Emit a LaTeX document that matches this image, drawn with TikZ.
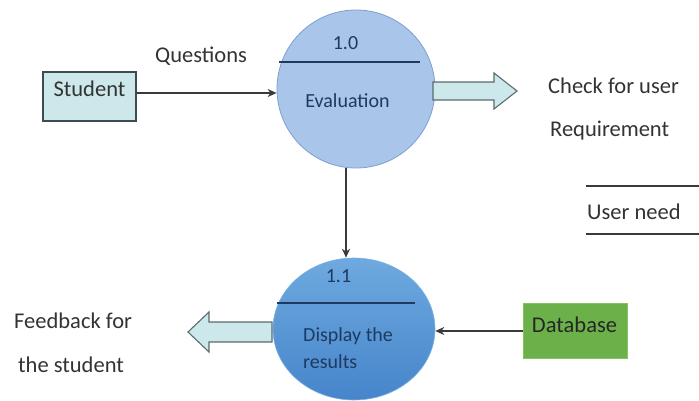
\documentclass[tikz,border=0pt]{standalone}
\usepackage{fontspec}
\setmainfont{Carlito}
\usetikzlibrary{shapes.geometric,arrows.meta}
\definecolor{txtgray}{HTML}{333333}
\definecolor{navy}{HTML}{1F3A5F}
\definecolor{cyanfill}{HTML}{CDE8EA}
\definecolor{boxedge}{HTML}{3E4C52}
\definecolor{cOnefill}{HTML}{A9C5EA}
\definecolor{cOneedge}{HTML}{7E9FCF}
\definecolor{cTwotop}{HTML}{6EA9DF}
\definecolor{cTwobot}{HTML}{4685CB}
\definecolor{dbfill}{HTML}{6CB04A}
\definecolor{dbedge}{HTML}{86C263}
\definecolor{linegray}{HTML}{3A3A3A}
\tikzset{
  outerlabel/.style={font=\fontsize{22.5}{26}\selectfont, text=txtgray, inner sep=0pt},
  innerlabel/.style={font=\fontsize{20}{24}\selectfont, text=navy, inner sep=0pt},
  flow/.style={draw=linegray, line width=1.1pt, -{Stealth[length=9pt,width=8pt]}},
  blockarrow/.style={draw=boxedge!80!cyanfill, fill=cyanfill, line width=1.1pt, line join=miter},
}
\begin{document}
\begin{tikzpicture}[x=1pt,y=-1pt]
\useasboundingbox (0,0) rectangle (699,401);
% processes
\node[ellipse, minimum width=158pt, minimum height=158pt, inner sep=0pt,
      fill=cOnefill, draw=cOneedge, line width=0.8pt] (c1) at (356,89) {};
\node[ellipse, minimum width=162pt, minimum height=142pt, inner sep=0pt,
      top color=cTwotop, bottom color=cTwobot, draw=cTwotop!90!white, line width=0.6pt] (c2) at (354,329) {};
\draw[navy, line width=1.3pt] (279,62) -- (420,62);
\draw[navy, line width=1.3pt] (277,303) -- (415,303);
\node[innerlabel, anchor=base] (n10) at (345.5,50) {1.0};
\node[innerlabel, anchor=base] (neval) at (347.5,108) {Evaluation};
\node[innerlabel, anchor=base] (n11) at (338.5,282) {1.1};
\node[innerlabel, anchor=base west] (ndisp) at (303,341) {Display the};
\node[innerlabel, anchor=base west] (nres) at (303,368) {results};
% external entities
\node[draw=boxedge, fill=cyanfill, line width=1.1pt, minimum width=93pt, minimum height=49pt, inner sep=0pt] (student) at (89.5,96.5) {};
\node[outerlabel, anchor=base] (studtxt) at (89.5,97) {Student};
\node[draw=dbedge, fill=dbfill, line width=0.8pt, minimum width=104pt, minimum height=55pt, inner sep=0pt] (db) at (575,330.5) {};
\node[outerlabel, anchor=base, text=black!85] (dbtxt) at (574.5,332) {Database};
% labels
\node[outerlabel, anchor=base west] (q) at (155,63) {Questions};
\node[outerlabel, anchor=base west] (chk) at (548,94) {Check for user};
\node[outerlabel, anchor=base west] (req) at (550,137) {Requirement};
\node[outerlabel, anchor=base west] (un) at (587,219) {User need};
\node[outerlabel, anchor=base west] (fb) at (14,328) {Feedback for};
\node[outerlabel, anchor=base west] (ts) at (18,372) {the student};
\draw[linegray, line width=1.1pt] (586,186) -- (699,186);
\draw[linegray, line width=1.1pt] (586,234) -- (699,234);
% flows
\draw[flow] ([yshift=3.5pt]student.east) -- ([yshift=-4pt]c1.west);
\draw[flow] ([xshift=-10pt]c1.south) -- ([xshift=-8pt]c2.north);
\draw[flow] ([yshift=-0.5pt]db.west) -- ([yshift=-2pt]c2.east);
% block arrows
\draw[blockarrow] (433,82) -- (494,82) -- (494,73) -- (517,91) -- (494,109) -- (494,100) -- (433,100) -- cycle;
\draw[blockarrow] (272,322) -- (209,322) -- (209,312) -- (188,332) -- (209,352) -- (209,342) -- (272,342) -- cycle;
\end{tikzpicture}
\end{document}
